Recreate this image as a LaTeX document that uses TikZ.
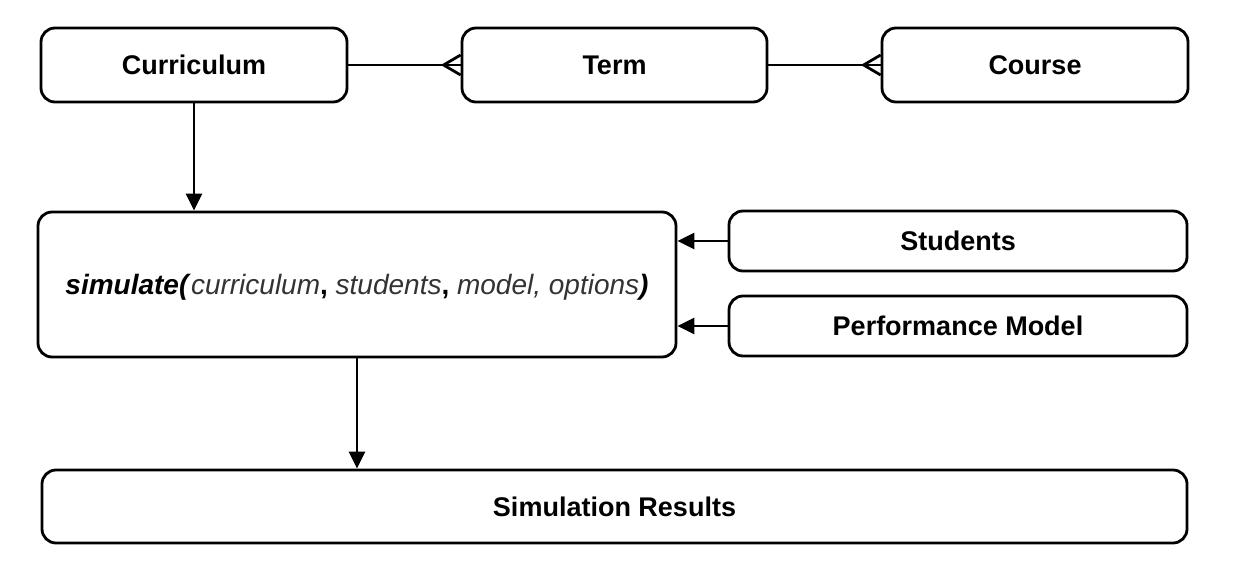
\documentclass[tikz,border=0pt]{standalone}
\usepackage{fontspec}
\setmainfont{Liberation Sans}
\usetikzlibrary{arrows.meta,calc}
\definecolor{textgray}{HTML}{333333}
\tikzset{
  box/.style={draw=black, line width=2.8pt, rounded corners=14pt, fill=white,
    inner sep=0pt, align=center, text height=19pt, text depth=0pt,
    font=\fontsize{27}{30}\selectfont\bfseries},
  arr/.style={line width=2.8pt, -{Triangle[length=17pt,width=16pt]}},
  conn/.style={line width=2.8pt},
}
\begin{document}
\begin{tikzpicture}[x=1pt,y=1pt]
\useasboundingbox (0,0) rectangle (1246,574);
\node[box, minimum width=306, minimum height=74] (cur) at (194,509) {Curriculum};
\node[box, minimum width=305, minimum height=74] (term) at (614.5,509) {Term};
\node[box, minimum width=306, minimum height=74] (course) at (1035,509) {Course};
\node[box, minimum width=638, minimum height=145, font=\fontsize{28}{30}\selectfont] (sim) at (357,289.5)
  {\textbf{\textit{simulate(}}\textcolor{textgray}{\textit{curriculum}}\textbf{,} \textcolor{textgray}{\textit{students}}\textbf{,} \textcolor{textgray}{\textit{model, options}}\textbf{\textit{)}}};
\node[box, minimum width=458, minimum height=60] (stu) at (958,333) {Students};
\node[box, minimum width=458, minimum height=60] (perf) at (958,248) {Performance Model};
\node[box, minimum width=1145, minimum height=73] (res) at (614.5,67.5) {Simulation Results};
% crow's foot connectors
\draw[conn] (cur.east) -- (term.west);
\coordinate (ttip) at ($(term.west)+(-17,0)$);
\draw[conn, line join=miter] ($(term.west)+(0,10)$) -- (ttip) -- ($(term.west)+(0,-10)$);
\draw[conn] (term.east) -- (course.west);
\coordinate (ctip) at ($(course.west)+(-17,0)$);
\draw[conn, line join=miter] ($(course.west)+(0,10)$) -- (ctip) -- ($(course.west)+(0,-10)$);
% arrows
\draw[arr] (cur.south) -- (cur.south |- sim.north);
\draw[arr] (stu.west) -- (stu.west -| sim.east);
\draw[arr] (perf.west) -- (perf.west -| sim.east);
\draw[arr] (sim.south) -- (sim.south |- res.north);
\end{tikzpicture}
\end{document}
